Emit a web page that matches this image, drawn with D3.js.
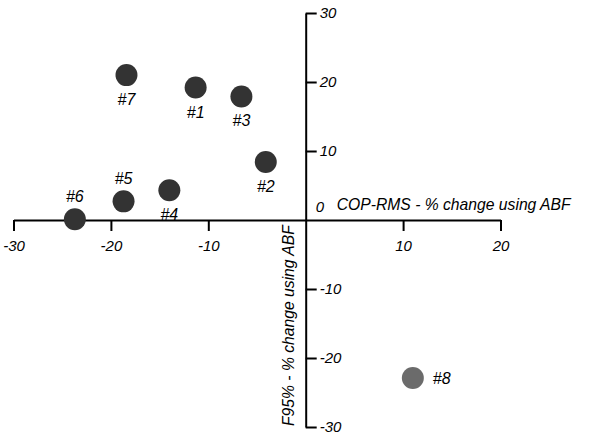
<!DOCTYPE html>
<html>
<head>
<meta charset="utf-8">
<script src="https://cdn.jsdelivr.net/npm/d3@7"></script>
<style>
  body { margin: 0; background: #fff; }
  svg text { font-family: "Liberation Sans", Arial, sans-serif; font-style: italic; }
</style>
</head>
<body>
<div id="chart"></div>
<script>
// Subjects and their % change (COP-RMS on x, F95% on y).
const labels = ["#1", "#2", "#3", "#4", "#5", "#6", "#7", "#8"];
const copRms = [-11.3, -4.1, -6.6, -14.0, -18.7, -23.7, -18.4, 11.0];
const f95 = [19.2, 8.4, 17.9, 4.3, 2.7, 0.1, 21.0, -22.9];
// Where each label sits relative to its dot.
const labelPos = ["below", "below", "below", "below", "above", "above", "below", "right"];

const xTicks = [-30, -20, -10, 10, 20];
const yTicks = [-30, -20, -10, 10, 20, 30];

const width = 600, height = 437;

const svg = d3.select("#chart").append("svg")
  .attr("width", width)
  .attr("height", height);

// Axes cross at the origin.
const x = d3.scaleLinear().domain([-30, 20]).range([13.5, 500.5]);
const y = d3.scaleLinear().domain([-30, 30]).range([427, 13]);

// X axis.
const xAxis = svg.append("g")
  .attr("transform", `translate(0,${y(0)})`)
  .call(d3.axisBottom(x).tickValues(xTicks).tickSize(11).tickSizeOuter(0).tickPadding(5));

// Y axis.
const yAxis = svg.append("g")
  .attr("transform", `translate(${x(0)},0)`)
  .call(d3.axisRight(y).tickValues(yTicks).tickSize(11).tickSizeOuter(0).tickPadding(3));

[xAxis, yAxis].forEach(g => {
  g.select(".domain").attr("stroke", "#000").attr("stroke-width", 2);
  g.selectAll(".tick line").attr("stroke", "#000").attr("stroke-width", 2);
  g.selectAll(".tick text")
    .attr("fill", "#000")
    .style("font-size", "15px")
    .text(d => d);
});
xAxis.selectAll(".tick text").attr("dy", "1em");

// The shared "0" label sits just above the x axis.
svg.append("text")
  .attr("x", x(0) + 10)
  .attr("y", y(0) - 8)
  .style("font-size", "15px")
  .text("0");

// Axis titles.
svg.append("text")
  .attr("x", x(0) + 31)
  .attr("y", y(0) - 10)
  .style("font-size", "15.7px")
  .text("COP-RMS - % change using ABF");

svg.append("text")
  .attr("transform", `translate(${x(0) - 12},${y(-15.3)}) rotate(-90)`)
  .attr("text-anchor", "middle")
  .style("font-size", "15.7px")
  .text("F95% - % change using ABF");

// Points.
const data = labels.map((d, i) => ({ label: d, x: copRms[i], y: f95[i], pos: labelPos[i] }));

const pts = svg.append("g").selectAll("g")
  .data(data)
  .join("g")
    .attr("transform", d => `translate(${x(d.x)},${y(d.y)})`);

pts.append("circle")
  .attr("r", 11)
  .attr("fill", d => d.label === "#8" ? "#6b6b6b" : "#333");

pts.append("text")
  .attr("text-anchor", d => d.pos === "right" ? "start" : "middle")
  .attr("x", d => d.pos === "right" ? 20 : 0)
  .attr("y", d => d.pos === "below" ? 30 : d.pos === "above" ? -17 : 6)
  .style("font-size", "16px")
  .text(d => d.label);
</script>
</body>
</html>
